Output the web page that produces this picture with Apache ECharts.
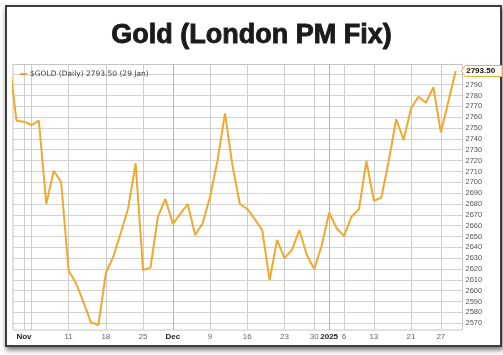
<!DOCTYPE html>
<html><head><meta charset="utf-8">
<script src="https://cdn.jsdelivr.net/npm/echarts@6/dist/echarts.min.js"></script>
<style>
html,body{margin:0;padding:0;background:#fff;}
#frame{position:absolute;left:5px;top:5px;width:493px;height:338px;border:2px solid #3c3c3c;background:#fff;box-shadow:1px 3px 5px rgba(0,0,0,0.55);}
#c{position:absolute;left:0;top:0;width:503px;height:355px;}
</style></head>
<body><div id="frame"></div><div id="c"></div>
<script>
const titleText = 'Gold (London PM Fix)';
const lastLabel = '2793.50';
const legendText = '$GOLD (Daily) ' + lastLabel + ' (29 Jan)';

const dates = [
 '2024-10-30','2024-10-31',
 '2024-11-01','2024-11-04','2024-11-05','2024-11-06','2024-11-07','2024-11-08',
 '2024-11-11','2024-11-12','2024-11-13','2024-11-14','2024-11-15',
 '2024-11-18','2024-11-19','2024-11-20','2024-11-21','2024-11-22',
 '2024-11-25','2024-11-26','2024-11-27','2024-11-29',
 '2024-12-02','2024-12-03','2024-12-04','2024-12-05','2024-12-06',
 '2024-12-09','2024-12-10','2024-12-11','2024-12-12','2024-12-13',
 '2024-12-16','2024-12-17','2024-12-18','2024-12-19','2024-12-20',
 '2024-12-23','2024-12-24','2024-12-26','2024-12-27','2024-12-30','2024-12-31',
 '2025-01-02','2025-01-03','2025-01-06','2025-01-07','2025-01-08','2025-01-10',
 '2025-01-13','2025-01-14','2025-01-15','2025-01-16','2025-01-17',
 '2025-01-21','2025-01-22','2025-01-23','2025-01-24',
 '2025-01-27','2025-01-28','2025-01-29'
];
const values = [
 2813.7, 2756.8,
 2755.9, 2752.8, 2756.8, 2680.0, 2710.7, 2700.0,
 2618.5, 2606.9, 2589.4, 2570.9, 2568.4,
 2616.1, 2631.4, 2653.0, 2676.0, 2717.5,
 2619.1, 2621.3, 2668.3, 2684.6,
 2661.6, 2670.8, 2680.0, 2651.4, 2662.2,
 2686.7, 2720.0, 2763.6, 2716.0, 2680.0,
 2675.4, 2666.0, 2656.0, 2609.8, 2646.8,
 2630.0, 2637.6, 2656.0, 2633.0, 2619.8, 2642.0,
 2672.0, 2657.6, 2650.5, 2668.3, 2675.0, 2719.6,
 2683.0, 2685.8, 2719.4, 2758.1, 2739.0,
 2768.2, 2778.9, 2773.4, 2787.6,
 2746.0, 2774.3, 2802.6
];
const tickDates = ['2024-11-01','2024-11-04','2024-11-11','2024-11-18','2024-11-25','2024-12-02','2024-12-09','2024-12-16','2024-12-23','2024-12-30','2025-01-02','2025-01-06','2025-01-13','2025-01-21','2025-01-27'];
const tickLabels = ['Nov','','11','18','25','Dec','9','16','23','30','2025','6','13','21','27'];
const boldLabels = ['Nov','Dec','2025'];
const monthDates = ['2024-12-02','2025-01-02'];
const yTicks = [2570,2580,2590,2600,2610,2620,2630,2640,2650,2660,2670,2680,2690,2700,2710,2720,2730,2740,2750,2760,2770,2780,2790,2800];
const yLabels = [2570,2580,2590,2600,2610,2620,2630,2640,2650,2660,2670,2680,2690,2700,2710,2720,2730,2740,2750,2760,2770,2780,2790];

const idx = d => dates.indexOf(d);
const data = values.map((v, i) => [i, v]);
const xTickVals = tickDates.map(idx);
const xLabelVals = tickDates.map(idx).filter((v, i) => tickLabels[i] !== '');
const monthVals = monthDates.map(idx);
const labelFor = v => { const i = xTickVals.indexOf(Math.round(v)); return i < 0 ? '' : tickLabels[i]; };

const lineColor = '#f0a92e';
const chart = echarts.init(document.getElementById('c'));
const xMin = 0.53, xMax = 60.91;
const option = {
  animation: false,
  backgroundColor: 'transparent',
  title: { text: titleText, left: 'center', top: 17,
    textStyle: { fontFamily: 'Liberation Sans', fontWeight: 'bold', fontSize: 27, color: '#1b1b1b',
      textBorderColor: '#1b1b1b', textBorderWidth: 0.9 } },
  legend: { show: true, left: 15, top: 65, icon: 'rect', itemWidth: 7, itemHeight: 2, itemGap: 4,
    textStyle: { fontFamily: 'DejaVu Sans', fontSize: 7.5, color: '#444', padding: [0,0,0,-2] },
    data: [legendText] },
  grid: { left: 13, right: 40.5, top: 64.5, bottom: 25, show: true, borderColor: '#c4c4c4', borderWidth: 1 },
  xAxis: [
    { type: 'value', min: xMin, max: xMax,
      axisLine: { show: false }, axisTick: { show: false, customValues: xTickVals },
      splitLine: { show: true, lineStyle: { color: '#cdcdcd', width: 1 } },
      axisLabel: { customValues: xLabelVals, margin: 3,
        formatter: v => { const t = labelFor(v); return boldLabels.includes(t) ? '{b|' + t + '}' : t; },
        fontFamily: 'Liberation Sans', fontSize: 8, color: '#666',
        rich: { b: { fontFamily: 'Liberation Sans', fontSize: 8, fontWeight: 'bold', color: '#222' } } } },
    { type: 'value', min: xMin, max: xMax, position: 'bottom',
      axisLine: { show: false }, axisTick: { show: false, customValues: monthVals },
      axisLabel: { show: false, customValues: monthVals },
      splitLine: { show: true, lineStyle: { color: '#b4b4b4', width: 1 } } }
  ],
  yAxis: { type: 'value', position: 'right', min: 2563.8, max: 2808.6,
    axisLine: { show: false }, axisTick: { show: false, customValues: yTicks },
    splitLine: { show: true, lineStyle: { color: '#d2d2d2', width: 1 } },
    axisLabel: { customValues: yLabels, margin: 3, formatter: v => String(v),
      fontFamily: 'Liberation Sans', fontSize: 7.5, color: '#555' } },
  series: [{ type: 'line', name: legendText, data: data, xAxisIndex: 0, showSymbol: false, clip: true,
    lineStyle: { color: lineColor, width: 2 }, itemStyle: { color: lineColor } }]
};
chart.setOption(option);
const p = chart.convertToPixel({ xAxisIndex: 0, yAxisIndex: 0 }, data[data.length - 1]);
const tx = p[0] + 5.5, ty = p[1], h = 5.5;
chart.setOption({ graphic: [
  { type: 'polygon', z: 100, shape: { points: [[tx, ty], [tx + 4, ty - h], [502, ty - h], [502, ty + h], [tx + 4, ty + h]] },
    style: { fill: '#fffdf3', stroke: '#f0b040', lineWidth: 1 } },
  { type: 'text', z: 101, x: tx + 5, y: ty, style: { text: lastLabel, font: 'bold 8px "Liberation Sans"', fill: '#111', verticalAlign: 'middle', align: 'left' } }
]});
</script></body></html>
